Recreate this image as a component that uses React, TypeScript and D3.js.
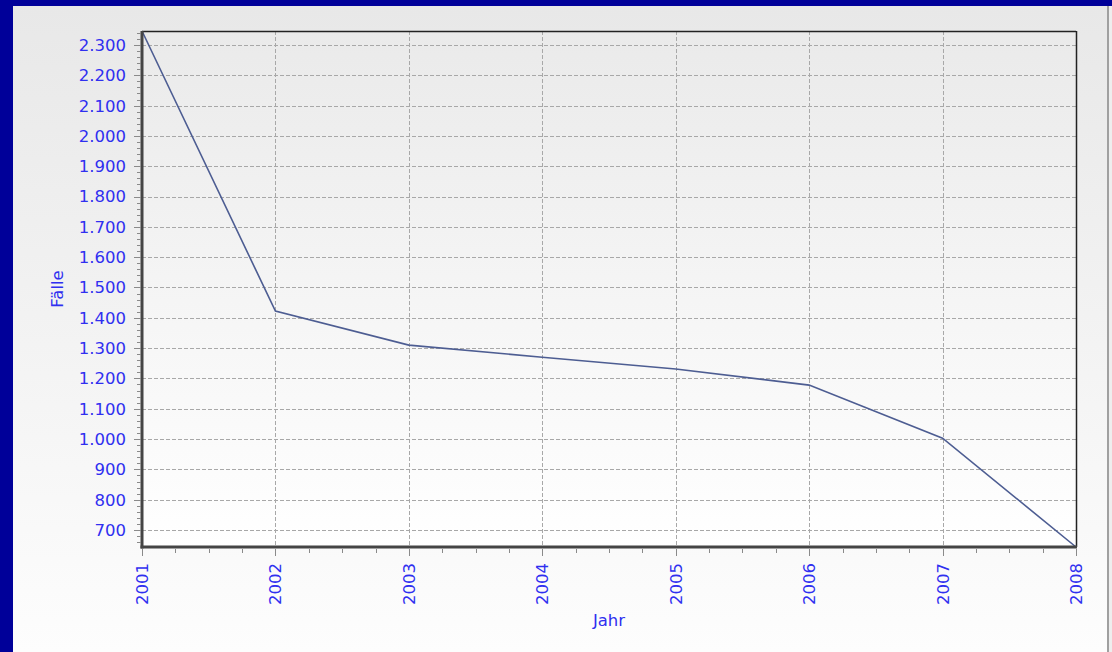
import React from 'react';
import * as d3 from 'd3';

const years = [2001, 2002, 2003, 2004, 2005, 2006, 2007, 2008];
const cases = [2346, 1422, 1310, 1270, 1231, 1178, 1003, 644];
const yTicks = [700, 800, 900, 1000, 1100, 1200, 1300, 1400, 1500, 1600, 1700, 1800, 1900, 2000, 2100, 2200, 2300];

const W = 1112;
const H = 652;
const plot = { left: 142, right: 1076, top: 31, bottom: 547 };
const labelColor = '#2f2ff0';
const font = '"DejaVu Sans", Verdana, sans-serif';

const de = d3.formatLocale({ decimal: ',', thousands: '.', grouping: [3], currency: ['', '€'] });
const fmt = de.format(',d');

const App: React.FC = () => {
  const x = d3.scaleLinear()
    .domain(d3.extent(years) as [number, number])
    .range([plot.left, plot.right]);
  const y = d3.scaleLinear()
    .domain(d3.extent(cases) as [number, number])
    .range([plot.bottom, plot.top]);

  const line = d3.line<number>()
    .x((_, i) => x(years[i]))
    .y(d => y(d));

  // minor ticks: 4 between y majors, 3 between x majors
  const yMinor = d3.range(y.domain()[0], y.domain()[1], 20)
    .map(v => Math.ceil(v / 20) * 20)
    .filter(v => v % 100 !== 0 && v <= y.domain()[1]);
  const xMinor = d3.range(years[0], years[years.length - 1], 0.25).filter(v => v % 1 !== 0);

  return (
    <svg width={W} height={H} style={{ position: 'absolute', left: 0, top: 0, display: 'block' }}>
      <defs>
        <linearGradient id="panelBg" x1="0" y1="0" x2="0" y2="1">
          <stop offset="0" stopColor="#e8e8e8" />
          <stop offset="1" stopColor="#fdfdfd" />
        </linearGradient>
        <linearGradient id="plotBg" x1="0" y1="0" x2="0" y2="1">
          <stop offset="0" stopColor="#eaeaea" />
          <stop offset="1" stopColor="#ffffff" />
        </linearGradient>
      </defs>

      <rect x={0} y={0} width={W} height={H} fill="#000099" />
      <rect x={13} y={6} width={W - 13} height={H - 6} fill="url(#panelBg)" />
      <rect x={1107} y={6} width={2} height={H - 6} fill="#a0a0a0" />
      <rect x={1109} y={6} width={3} height={H - 6} fill="#eeeeee" />

      <rect x={plot.left} y={plot.top} width={plot.right - plot.left} height={plot.bottom - plot.top} fill="url(#plotBg)" />

      {/* grid */}
      <g stroke="#a8a8a8" strokeWidth={1} strokeDasharray="4,2">
        {yTicks.map(t => (
          <line key={t} x1={plot.left} x2={plot.right} y1={Math.round(y(t)) + 0.5} y2={Math.round(y(t)) + 0.5} />
        ))}
        {years.slice(1, -1).map(yr => (
          <line key={yr} x1={Math.round(x(yr)) + 0.5} x2={Math.round(x(yr)) + 0.5} y1={plot.top} y2={plot.bottom} />
        ))}
      </g>

      {/* data line */}
      <path d={line(cases) || ''} fill="none" stroke="#4d5d92" strokeWidth={1.6} />

      {/* frame */}
      <line x1={plot.left} x2={plot.right} y1={plot.top + 0.5} y2={plot.top + 0.5} stroke="#222" strokeWidth={1.5} />
      <line x1={plot.right + 0.5} x2={plot.right + 0.5} y1={plot.top} y2={plot.bottom} stroke="#222" strokeWidth={1.5} />
      <line x1={plot.left} x2={plot.left} y1={plot.top} y2={plot.bottom + 1.5} stroke="#454545" strokeWidth={3} />
      <line x1={plot.left - 1.5} x2={plot.right + 1} y1={plot.bottom} y2={plot.bottom} stroke="#454545" strokeWidth={3} />

      {/* y ticks */}
      <g stroke="#8a8a8a" strokeWidth={1}>
        {yTicks.map(t => (
          <line key={t} x1={plot.left - 8} x2={plot.left - 1} y1={Math.round(y(t)) + 0.5} y2={Math.round(y(t)) + 0.5} />
        ))}
        {yMinor.map(t => (
          <line key={t} x1={plot.left - 5} x2={plot.left - 1} y1={Math.round(y(t)) + 0.5} y2={Math.round(y(t)) + 0.5} />
        ))}
        {years.map(yr => (
          <line key={yr} x1={Math.round(x(yr)) + 0.5} x2={Math.round(x(yr)) + 0.5} y1={plot.bottom + 2} y2={plot.bottom + 9} />
        ))}
        {xMinor.map(v => (
          <line key={v} x1={Math.round(x(v)) + 0.5} x2={Math.round(x(v)) + 0.5} y1={plot.bottom + 2} y2={plot.bottom + 6} />
        ))}
      </g>

      {/* y labels */}
      <g fill={labelColor} fontFamily={font} fontSize={16.5} textAnchor="end">
        {yTicks.map(t => (
          <text key={t} x={plot.left - 16} y={y(t)} dy="0.36em">{fmt(t)}</text>
        ))}
      </g>

      {/* x labels */}
      <g fill={labelColor} fontFamily={font} fontSize={16.5} textAnchor="end">
        {years.map(yr => (
          <text key={yr} transform={`translate(${x(yr)},${plot.bottom + 16}) rotate(-90)`} dy="0.36em">{yr}</text>
        ))}
      </g>

      {/* axis titles */}
      <text x={(plot.left + plot.right) / 2} y={626} fill={labelColor} fontFamily={font} fontSize={16.5} textAnchor="middle">Jahr</text>
      <text transform={`translate(57,${(plot.top + plot.bottom) / 2}) rotate(-90)`} fill={labelColor} fontFamily={font} fontSize={16.5} textAnchor="middle" dy="0.36em">Fälle</text>
    </svg>
  );
};

export default App;
